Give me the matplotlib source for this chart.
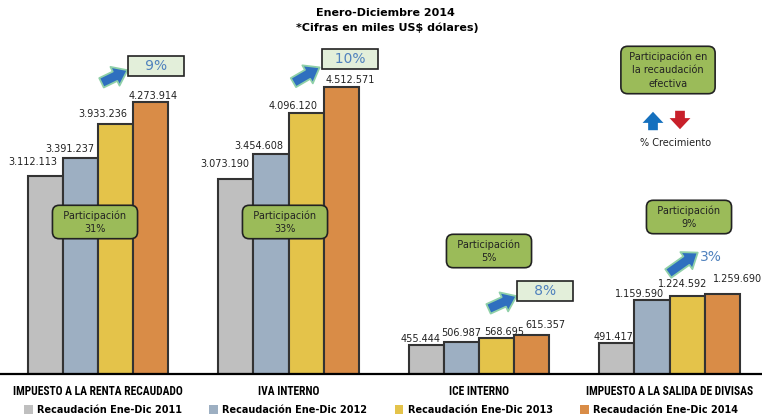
import matplotlib.pyplot as plt
import numpy as np
from matplotlib import font_manager
from matplotlib.patches import Patch

categorias = ['IMPUESTO A LA RENTA RECAUDADO', 'IVA INTERNO', 'ICE INTERNO',
              'IMPUESTO A LA SALIDA DE DIVISAS']
anios = ['Recaudación Ene-Dic 2011', 'Recaudación Ene-Dic 2012',
         'Recaudación Ene-Dic 2013', 'Recaudación Ene-Dic 2014']
rec_2011 = [3112113, 3073190, 455444, 491417]
rec_2012 = [3391237, 3454608, 506987, 1159590]
rec_2013 = [3933236, 4096120, 568695, 1224592]
rec_2014 = [4273914, 4512571, 615357, 1259690]
participacion = ['31%', '33%', '5%', '9%']
crecimiento = ['9%', '10%', '8%', '3%']

colores = ['#bfbfbf', '#9dafc2', '#e4c34a', '#d98c47']
# desplazamiento de las etiquetas (pixeles) por serie y categoria
lab_dx = [[-13, -11, -6, -3], [-11, -12, 0, -12], [-13, -13, 8, -4], [3, 9, 14, 15]]
lab_dy = [[14, 15, 6, 6], [9, 8, 9, 6], [10, 7, 6, 12], [6, 7, 10, 15]]

W, H = 762, 418
fig = plt.figure(figsize=(W / 100, H / 100), dpi=100)
ax = fig.add_axes([0, 44 / H, 1, 330 / H])


def fp(x, y):
    # pixel de la imagen (desde arriba) -> fraccion de figura
    return (x / W, 1 - y / H)


def fuente_estrecha():
    fams = {f.name for f in font_manager.fontManager.ttflist}
    for nom in ['Liberation Sans Narrow', 'Roboto Condensed', 'Open Sans Condensed']:
        if nom in fams:
            return dict(family=nom)
    if any(f.name == 'DejaVu Sans' and f.stretch == 'condensed'
           for f in font_manager.fontManager.ttflist):
        return dict(family='DejaVu Sans', stretch='condensed')
    return dict(family='DejaVu Sans')


series = [rec_2011, rec_2012, rec_2013, rec_2014]
x = np.arange(len(categorias))
w = 0.184
for i, (vals, c) in enumerate(zip(series, colores)):
    pos = x + (i - 1.5) * w
    ax.bar(pos, vals, w, color=c, edgecolor='#333333', linewidth=1.5, zorder=2)
    for j, (p, v) in enumerate(zip(pos, vals)):
        lab = '{:,}'.format(v).replace(',', '.')
        ax.annotate(lab, (p, v), xytext=(lab_dx[i][j], lab_dy[i][j]),
                    textcoords='offset pixels', ha='center', va='center',
                    fontsize=7, color='#222222')

ax.set_xlim(-98 / 190.5, (W - 98) / 190.5)
ax.set_ylim(0, 330 / 6.36e-5)
for s in ['top', 'right', 'left']:
    ax.spines[s].set_visible(False)
ax.spines['bottom'].set_linewidth(1.6)
ax.set_yticks([])
ax.set_xticks(x)
est = fuente_estrecha()
ax.set_xticklabels(categorias, fontsize=8, fontweight='bold', **est)
ax.tick_params(axis='x', length=0, pad=8)

# titulo
fig.text(*fp(385, 13), 'Enero-Diciembre 2014', ha='center', va='center',
         fontsize=8, fontweight='bold')
fig.text(*fp(387, 28), '*Cifras en miles US$ dólares)', ha='center', va='center',
         fontsize=8, fontweight='bold')

# cajas de participacion
verde = dict(boxstyle='round,pad=0.5,rounding_size=0.7', fc='#9bbb59',
             ec='#222222', lw=1.2)
cajas = [(95, 222), (285, 222), (489, 251), (689, 217)]
for (px, py), t in zip(cajas, participacion):
    fig.text(*fp(px, py), '  Participación  \n' + t, ha='center', va='center',
             fontsize=7, color='#222222', bbox=verde, linespacing=1.4)
fig.text(*fp(668, 70), ' Participación en \nla recaudación\nefectiva',
         ha='center', va='center', fontsize=7, color='#222222', bbox=verde,
         linespacing=1.45)

# flechas de crecimiento
flechas = [((99, 84), (130, 69)), ((291, 84), (322, 66)),
           ((486, 310), (519, 295)), ((666, 275), (700, 251))]
for a, b in flechas:
    ax.annotate('', xy=fp(*b), xytext=fp(*a), xycoords='figure fraction',
                textcoords='figure fraction',
                arrowprops=dict(arrowstyle='simple,head_width=1.5,head_length=1.0,tail_width=0.75',
                                fc='#2f6fbf', ec='#8fd0a8', lw=1.3))

gbox = dict(boxstyle='square,pad=0.25', fc='#e3efda', ec='#222222', lw=1.2)
cajas_c = [(156, 66), (350, 59), (545, 291)]
relleno = ['   ', '  ', '   ']
for (px, py), t, r in zip(cajas_c, crecimiento[:3], relleno):
    fig.text(*fp(px, py), r + t + r, ha='center', va='center',
             fontsize=10, color='#4f81bd', bbox=gbox)
fig.text(*fp(711, 257), crecimiento[3], ha='center', va='center',
         fontsize=10, color='#4f81bd')

# leyenda de flechas
ax.annotate('', xy=fp(653, 109), xytext=fp(653, 133), xycoords='figure fraction',
            textcoords='figure fraction',
            arrowprops=dict(arrowstyle='simple,head_width=1.5,head_length=0.8,tail_width=0.7',
                            fc='#1570be', ec='none'))
ax.annotate('', xy=fp(680, 132), xytext=fp(680, 108), xycoords='figure fraction',
            textcoords='figure fraction',
            arrowprops=dict(arrowstyle='simple,head_width=1.5,head_length=0.8,tail_width=0.7',
                            fc='#c8202a', ec='none'))
fig.text(*fp(676, 143), '% Crecimiento', ha='center', va='center',
         fontsize=7, color='#222222')

handles = [Patch(facecolor=c, edgecolor='none') for c in colores]
fig.legend(handles, anios, loc='center', bbox_to_anchor=fp(381, 410), ncol=4,
           frameon=False, handlelength=0.9, handleheight=1.0, handletextpad=0.45,
           columnspacing=2.8, prop={'size': 7, 'weight': 'bold'})

# ajustar el ancho de los nombres de categoria al original (~171 px)
fig.canvas.draw()
rend = fig.canvas.get_renderer()
ticks = ax.get_xticklabels()
ancho = ticks[0].get_window_extent(rend).width
for t in ticks:
    t.set_fontsize(8 * 171 / ancho)

fig.savefig('out.png', dpi=100)
